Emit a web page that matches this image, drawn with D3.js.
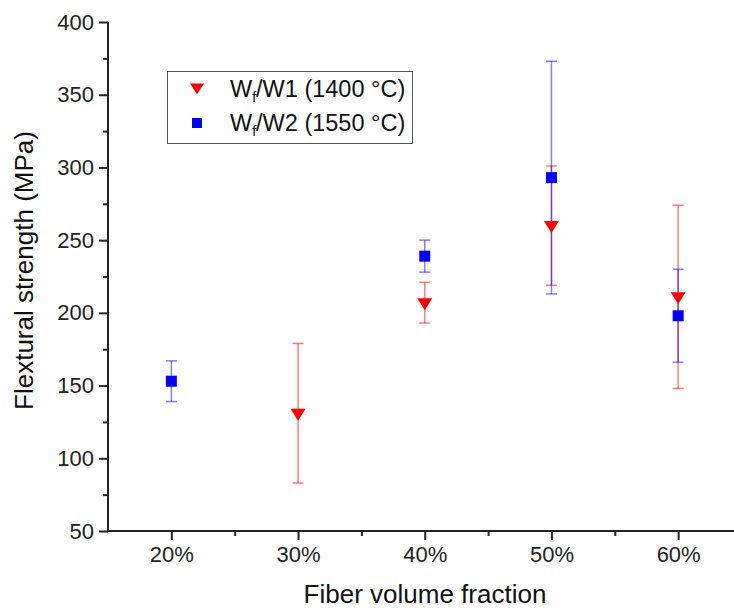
<!DOCTYPE html>
<html><head><meta charset="utf-8">
<script src="https://cdn.jsdelivr.net/npm/d3@7"></script>
<style>
html,body{margin:0;padding:0;background:#fff;}
svg{display:block;font-family:"Liberation Sans",Arial,sans-serif;}
</style></head>
<body><svg id="c" width="734" height="610"></svg>
<script>
// Data
const xTicks = [20, 30, 40, 50, 60];
const yTicks = [50, 100, 150, 200, 250, 300, 350, 400];
const w1X = [30, 40, 50, 60];
const w1Mean = [130, 206, 259, 210];
const w1Low = [83, 193, 219, 148];
const w1High = [179, 221, 301, 274];
const w2X = [20, 40, 50, 60];
const w2Mean = [153, 239, 293, 198];
const w2Low = [139, 228, 213, 166];
const w2High = [167, 250, 373, 230];
const seriesNames = ["W1 (1400 °C)", "W2 (1550 °C)"];

const svg = d3.select("#c");
const x = d3.scaleLinear().domain([15, 65]).range([108, 741.5]);
const y = d3.scaleLinear().domain([50, 400]).range([531, 22]);
const axisColor = "#222";

// axes
const gx = svg.append("g").attr("transform", `translate(0,${y(50)})`)
  .call(d3.axisBottom(x).tickValues(xTicks).tickSize(9).tickPadding(6).tickFormat(d => d + "%"));
const gxm = svg.append("g").attr("transform", `translate(0,${y(50)})`)
  .call(d3.axisBottom(x).tickValues([25, 35, 45, 55, 65]).tickSize(5).tickFormat(""));
gxm.select(".domain").remove();
const gy = svg.append("g").attr("transform", `translate(${x(15)},0)`)
  .call(d3.axisLeft(y).tickValues(yTicks).tickSize(9).tickPadding(5));
const gym = svg.append("g").attr("transform", `translate(${x(15)},0)`)
  .call(d3.axisLeft(y).tickValues([75, 125, 175, 225, 275, 325, 375]).tickSize(5).tickFormat(""));
gym.select(".domain").remove();
[gx, gxm, gy, gym].forEach(g => {
  g.selectAll(".domain").attr("stroke", axisColor).attr("stroke-width", 2);
  g.selectAll(".tick line").attr("stroke", axisColor).attr("stroke-width", 2);
  g.selectAll(".tick text").attr("fill", "#222").style("font-size", "22px").style("font-family", "'Liberation Sans',Arial,sans-serif");
});
gx.select(".domain").attr("d", `M${x(15)},0H${x(65)}`);
gy.select(".domain").attr("d", `M0,${y(400)}V${y(50)}`);

// axis titles
svg.append("text").attr("x", 425).attr("y", 603).attr("text-anchor", "middle")
  .style("font-size", "26px").attr("fill", "#111").text("Fiber volume fraction");
svg.append("text").attr("transform", `translate(33,${(125+416)/2}) rotate(-90)`).attr("text-anchor", "middle")
  .style("font-size", "26px").attr("fill", "#111").text("Flextural strength (MPa)");

// error bars
function errBars(xs, lo, hi, color) {
  const g = svg.append("g").attr("stroke", color).attr("stroke-opacity", 0.5).attr("stroke-width", 1.5).attr("fill", "none");
  xs.forEach((xv, i) => {
    const cx = x(xv);
    g.append("line").attr("x1", cx).attr("x2", cx).attr("y1", y(lo[i])).attr("y2", y(hi[i]));
    g.append("line").attr("x1", cx - 5.5).attr("x2", cx + 5.5).attr("y1", y(lo[i])).attr("y2", y(lo[i]));
    g.append("line").attr("x1", cx - 5.5).attr("x2", cx + 5.5).attr("y1", y(hi[i])).attr("y2", y(hi[i]));
  });
}
errBars(w1X, w1Low, w1High, "#ff0000");
errBars(w2X, w2Low, w2High, "#0000ff");

const triPath = (cx, cy, w, h) => `M${cx - w/2},${cy - h/2}L${cx + w/2},${cy - h/2}L${cx},${cy + h/2}Z`;
svg.append("g").selectAll("path").data(w1X).join("path")
  .attr("d", (d, i) => triPath(x(d), y(w1Mean[i]), 15, 12)).attr("fill", "#ff0000");
svg.append("g").selectAll("rect").data(w2X).join("rect")
  .attr("x", d => x(d) - 5.5).attr("y", (d, i) => y(w2Mean[i]) - 5.5)
  .attr("width", 11).attr("height", 11).attr("fill", "#0000ff");

// legend
const lg = svg.append("g");
lg.append("rect").attr("x", 167.5).attr("y", 71.5).attr("width", 245).attr("height", 72)
  .attr("fill", "#fff").attr("stroke", "#555").attr("stroke-width", 1);
lg.append("path").attr("d", triPath(197, 89, 14, 11)).attr("fill", "#ff0000");
lg.append("rect").attr("x", 192).attr("y", 118).attr("width", 10).attr("height", 10).attr("fill", "#0000ff");
[89, 123].forEach((cy, i) => {
  const t = lg.append("text").attr("x", 230).attr("y", cy + 8).style("font-size", "23.5px").attr("fill", "#111");
  t.append("tspan").text("W");
  t.append("tspan").attr("dy", 5).style("font-size", "14px").text("f");
  t.append("tspan").attr("dy", -5).text("/" + seriesNames[i]);
});
</script></body></html>
